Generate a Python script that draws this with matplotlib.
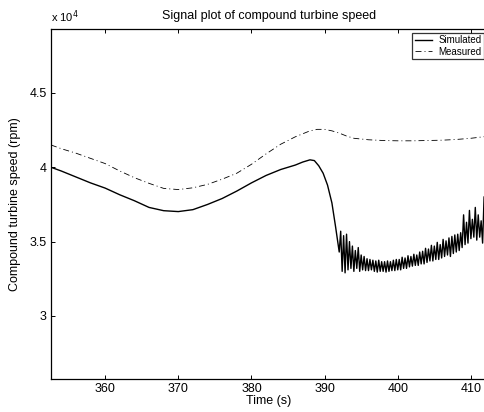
import matplotlib
matplotlib.use("Agg")
import matplotlib.pyplot as plt
import numpy as np

plt.rcParams['font.family'] = ['Liberation Sans', 'DejaVu Sans']
plt.rcParams['lines.scale_dashes'] = False

# ---- data ----
title = "Signal plot of compound turbine speed"
x_label = "Time (s)"
y_label = "Compound turbine speed (rpm)"
series_names = ["Simulated", "Measured"]

x_ticks = [360, 370, 380, 390, 400, 410]
y_ticks = [30000, 35000, 40000, 45000]
y_tick_labels = ["3", "3.5", "4", "4.5"]

# simulated, smooth part (time s, speed in krpm)
sim_t_smooth = [352.6, 354, 356, 358, 360, 362, 364, 366, 368, 370, 372, 374,
                376, 378, 380, 382, 384, 386, 387, 388, 388.6, 389.2, 389.8,
                390.4, 391.0, 391.5, 392.0]
sim_v_smooth = [40.0, 39.75, 39.35, 38.95, 38.6, 38.15, 37.75, 37.3, 37.08,
                37.02, 37.15, 37.5, 37.9, 38.4, 38.95, 39.45, 39.85, 40.15,
                40.35, 40.5, 40.45, 40.1, 39.6, 38.8, 37.6, 36.0, 34.3]
# simulated, noisy part, sampled every 0.2 s from 392.2 s to 411.8 s (krpm)
sim_v_noisy = [35.7, 33.0, 35.4, 32.9, 35.5, 33.1, 35.0, 33.2, 34.7, 33.0,
               34.4, 33.2, 34.6, 33.0, 34.1, 33.1, 34.0, 33.05, 33.85, 33.05,
               33.8, 33.1, 33.75, 33.0, 33.7, 32.95, 33.75, 33.0, 33.65, 33.0,
               33.65, 32.95, 33.7, 33.0, 33.65, 33.05, 33.75, 33.05, 33.8, 33.1,
               33.8, 33.1, 33.95, 33.2, 33.9, 33.2, 34.05, 33.3, 34.0, 33.35,
               34.15, 33.4, 34.1, 33.4, 34.3, 33.5, 34.35, 33.5, 34.55, 33.6,
               34.5, 33.7, 34.75, 33.7, 34.7, 33.8, 34.95, 33.8, 34.8, 33.9,
               35.15, 34.0, 35.05, 34.1, 35.25, 34.0, 35.35, 34.2, 35.45, 34.3,
               35.5, 34.4, 35.6, 34.6, 36.8, 34.8, 36.3, 34.9, 37.1, 35.2,
               36.5, 35.3, 37.3, 35.1, 36.8, 35.3, 36.4, 34.9, 38.0]
sim_noisy_start, sim_noisy_step = 392.2, 0.2

# measured (time s, speed krpm)
meas_t = [352.6, 354, 356, 358, 360, 362, 364, 366, 368, 370, 372, 374, 376,
          378, 380, 382, 384, 386, 388, 389, 390, 391, 392, 393, 394, 396,
          398, 400, 402, 404, 406, 408, 410, 412.2]
meas_v = [41.5, 41.25, 40.95, 40.6, 40.25, 39.75, 39.3, 38.92, 38.58, 38.5,
          38.62, 38.85, 39.2, 39.6, 40.2, 40.9, 41.55, 42.05, 42.45, 42.55,
          42.55, 42.45, 42.3, 42.1, 41.95, 41.85, 41.8, 41.78, 41.78, 41.8,
          41.82, 41.87, 41.95, 42.08]

# ---- assemble ----
sim_t_noisy = sim_noisy_start + sim_noisy_step * np.arange(len(sim_v_noisy))
sim_t = np.concatenate([sim_t_smooth, sim_t_noisy])
sim_v = np.concatenate([sim_v_smooth, sim_v_noisy]) * 1000
meas_vv = np.array(meas_v) * 1000

W, H = 485, 412
fig = plt.figure(figsize=(W / 100, H / 100), dpi=100)
ax = fig.add_axes([51 / W, (H - 379) / H, (487 - 51) / W, 350 / H])

l1, = ax.plot(sim_t, sim_v, color='black', lw=1.0, label=series_names[0])
l2, = ax.plot(meas_t, meas_vv, color='black', lw=0.6, label=series_names[1],
              dashes=(4.3, 2.2, 0.7, 2.2))

ax.set_xlim(352.6, 412.2)
ax.set_ylim(25760, 49300)
ax.set_xticks(x_ticks)
ax.set_xticklabels([str(v) for v in x_ticks])
ax.set_yticks(y_ticks)
ax.set_yticklabels(y_tick_labels)
ax.tick_params(direction='in', length=3, width=0.7, labelsize=9, pad=3,
               top=True, right=False)
for s in ax.spines.values():
    s.set_linewidth(0.9)

ax.set_title(title, fontsize=9, pad=7)
ax.set_xlabel(x_label, fontsize=9, labelpad=0)
ax.set_ylabel(y_label, fontsize=9, labelpad=6)
ax.text(0.0, 1.012, r"x 10$^{4}$", transform=ax.transAxes, fontsize=8,
        ha='left', va='bottom')

leg = fig.legend(handles=[l1, l2], loc='upper left',
                 bbox_to_anchor=(412.5 / W, 1 - 32.5 / H), fontsize=7,
                 frameon=True, fancybox=False, edgecolor='black',
                 handlelength=1.8, handletextpad=0.6, borderpad=0.25,
                 labelspacing=0.2, borderaxespad=0)
leg.get_frame().set_linewidth(0.9)

fig.savefig("out.png", dpi=100)
